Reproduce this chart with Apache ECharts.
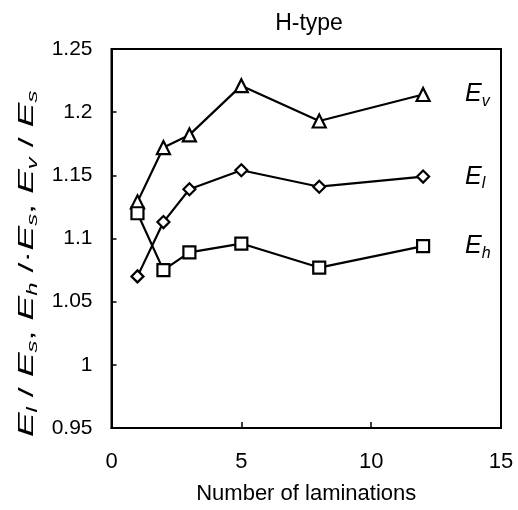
<!DOCTYPE html>
<html>
<head>
<meta charset="utf-8">
<script src="https://cdn.jsdelivr.net/npm/echarts@6/dist/echarts.min.js"></script>
<style>
html,body{margin:0;padding:0;background:#fff;}
#chart{width:518px;height:510px;}
</style>
</head>
<body>
<div id="chart"></div>
<script>
// Data
var laminations = [1, 2, 3, 5, 8, 12];
var Ev = [1.129, 1.172, 1.182, 1.221, 1.193, 1.214];
var El = [1.070, 1.113, 1.139, 1.154, 1.141, 1.149];
var Eh = [1.120, 1.075, 1.089, 1.096, 1.077, 1.094];
var seriesNames = ['v', 'l', 'h'];
var xTicks = [0, 5, 10, 15];
var yTicks = [0.95, 1, 1.05, 1.1, 1.15, 1.2, 1.25];

var FONT = '"Liberation Sans", Arial, Helvetica, sans-serif';
var richE = {
  e: {fontFamily: FONT, fontSize: 25, fontStyle: 'italic', color: '#000', lineHeight: 30},
  s: {fontFamily: FONT, fontSize: 16, fontStyle: 'italic', color: '#000', lineHeight: 16, verticalAlign: 'bottom'},
  n: {fontFamily: FONT, fontSize: 24, color: '#000', lineHeight: 30}
};
var richY = {
  e: {fontFamily: FONT, fontSize: 22, fontStyle: 'italic', color: '#000', lineHeight: 26},
  s: {fontFamily: FONT, fontSize: 14, fontStyle: 'italic', color: '#000', lineHeight: 14, verticalAlign: 'bottom'},
  n: {fontFamily: FONT, fontSize: 21, color: '#000', lineHeight: 26}
};

function pairs(ys) { return laminations.map(function (x, i) { return [x, ys[i]]; }); }

function mkSeries(ys, sym, size, sub) {
  return {
    type: 'line',
    data: pairs(ys),
    symbol: sym,
    symbolSize: size,
    showAllSymbol: true,
    lineStyle: {color: '#000', width: 2.2},
    itemStyle: {color: '#fff', borderColor: '#000', borderWidth: 2.2},
    emphasis: {disabled: true},
    z: 3,
    endLabel: {
      show: true,
      formatter: '{e|E}{s|' + sub + '}',
      distance: 42,
      rich: richE
    },
    animation: false
  };
}

var chart = echarts.init(document.getElementById('chart'), null, {renderer: 'canvas'});
chart.setOption({
  animation: false,
  backgroundColor: '#fff',
  title: {
    text: 'H-type',
    left: 304, top: 7,
    textAlign: 'center',
    textStyle: {fontFamily: FONT, fontSize: 23, fontWeight: 'normal', color: '#000'}
  },
  grid: {
    left: 111.5, right: 17, top: 49, bottom: 81,
    show: true, borderColor: '#000', borderWidth: 2, backgroundColor: 'transparent'
  },
  xAxis: {
    type: 'value',
    min: xTicks[0], max: xTicks[xTicks.length - 1], interval: 5,
    name: 'Number of laminations',
    nameLocation: 'middle', nameGap: 55,
    nameTextStyle: {fontFamily: FONT, fontSize: 22, color: '#000'},
    axisLine: {show: true, lineStyle: {color: '#000', width: 2}},
    axisTick: {show: true, inside: true, length: 6, lineStyle: {color: '#000', width: 1.5}},
    axisLabel: {fontFamily: FONT, fontSize: 22, color: '#000', margin: 23},
    splitLine: {show: false}
  },
  yAxis: {
    type: 'value',
    min: yTicks[0], max: yTicks[yTicks.length - 1], interval: 0.05,
    axisLine: {show: true, lineStyle: {color: '#000', width: 2}},
    axisTick: {show: true, inside: true, length: 5, lineStyle: {color: '#000', width: 1.5}},
    axisLabel: {
      fontFamily: FONT, fontSize: 21, color: '#000', margin: 19,
      formatter: function (v) { return String(+v.toFixed(2)); }
    },
    splitLine: {show: false}
  },
  graphic: [{
    type: 'text',
    x: 27, y: 264,
    rotation: Math.PI / 2,
    scaleX: 1.7,
    style: {
      text: '{e|E}{s|l}{n| / }{e|E}{s|s}{n|, }{e|E}{s|h}{n| /·}{e|E}{s|s}{n|, }{e|E}{s|v}{n| / }{e|E}{s|s}',
      rich: richY,
      align: 'center',
      verticalAlign: 'middle'
    }
  }],
  series: [
    mkSeries(Ev, 'triangle', 13, seriesNames[0]),
    mkSeries(El, 'diamond', 12, seriesNames[1]),
    mkSeries(Eh, 'rect', 12, seriesNames[2])
  ]
});
</script>
</body>
</html>
